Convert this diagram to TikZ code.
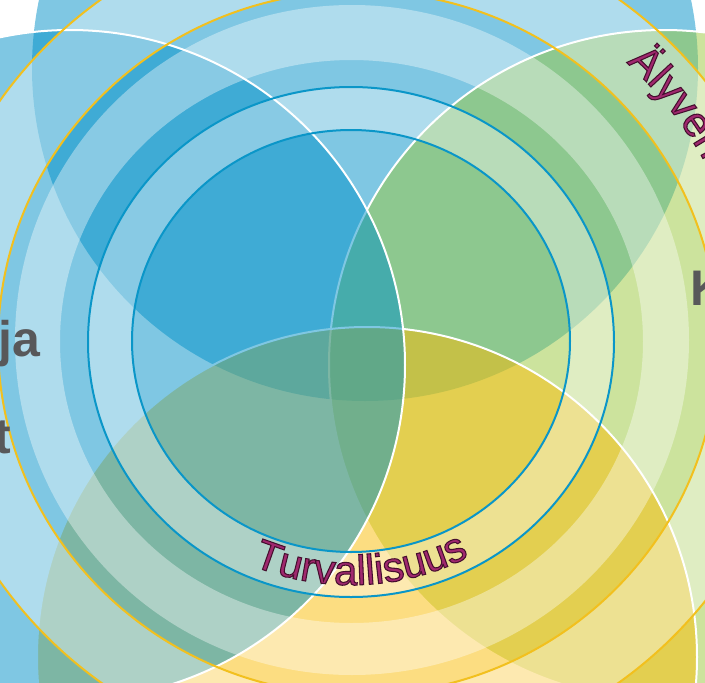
\documentclass[tikz,border=0pt]{standalone}
\usepackage{fontspec}
\setmainfont{Liberation Sans}
\usetikzlibrary{decorations.text}
\font\turB="Liberation Sans:embolden=2.5" at 42pt
\definecolor{vblue}{RGB}{0,145,200}
\definecolor{vgreen}{RGB}{155,201,61}
\definecolor{vyellow}{RGB}{250,188,5}
\definecolor{ringblue}{RGB}{10,150,200}
\definecolor{goldline}{RGB}{242,192,30}
\definecolor{magtxt}{RGB}{160,40,110}
\definecolor{labelgray}{RGB}{88,88,90}
\newcommand{\outlinefmt}{\color{magtxt}\turB\special{pdf:literal direct 0.27 0.06 0.18 RG}}
\begin{document}
\begin{tikzpicture}[x=1pt,y=1pt,
  vennfill/.style={fill opacity=0.5, draw=white, draw opacity=1, line width=2pt},
  lightband/.style={fill=white, fill opacity=0.38, even odd rule},
  ringline/.style={draw=ringblue, line width=2pt},
  goldring/.style={draw=goldline, line width=2pt},
  labeltxt/.style={font={\fontsize{50pt}{50pt}\selectfont\bfseries}, text=labelgray, inner sep=0pt, anchor=base west}]
\useasboundingbox (0,0) rectangle (705,-683);
\clip (0,0) rectangle (705,-683);
\fill[white] (0,0) rectangle (705,-683);
% Venn circles
\fill[vblue, fill opacity=0.5] (365,-68) circle[radius=333];
\path[vennfill, fill=vgreen] (664,-365) circle[radius=335];
\path[vennfill, fill=vyellow] (367,-657) circle[radius=330];
\path[vennfill, fill=vblue] (70,-365) circle[radius=335];
% light concentric bands
\fill[lightband] (351,-341) ellipse[x radius=219, y radius=211] (351,-342) ellipse[x radius=263, y radius=255];
\fill[lightband] (351.5,-341.5) ellipse[x radius=291.5, y radius=281.5] (352,-340) ellipse[x radius=337, y radius=335];
\fill[lightband] (358,-343) ellipse[x radius=360, y radius=352] (360,-341) ellipse[x radius=437, y radius=424];
% ring outlines
\draw[ringline] (351,-341) ellipse[x radius=219, y radius=211];
\draw[ringline] (351,-342) ellipse[x radius=263, y radius=255];
\draw[goldring] (358,-343) ellipse[x radius=360, y radius=352];
\draw[goldring] (360,-341) ellipse[x radius=437, y radius=424];
% curved texts
\path[decorate, decoration={text along path, text={|\outlinefmt|Turvallisuus}, text align=center}]
  (351,-341) ++(228:252 and 244) arc[start angle=228, end angle=317, x radius=252, y radius=244];
\path[decorate, decoration={text along path, text={|\outlinefmt|Älyverk}, text align=left}]
  (359,-342) ++(47:392 and 382) arc[start angle=47, end angle=-30, x radius=392, y radius=382];
% cut-off labels
\node[labeltxt] (ja) at (-2,-356) {ja};
\node[labeltxt] (tlabel) at (-6,-453) {t};
\node[labeltxt] (klabel) at (690,-305) {K};
\end{tikzpicture}
\end{document}
